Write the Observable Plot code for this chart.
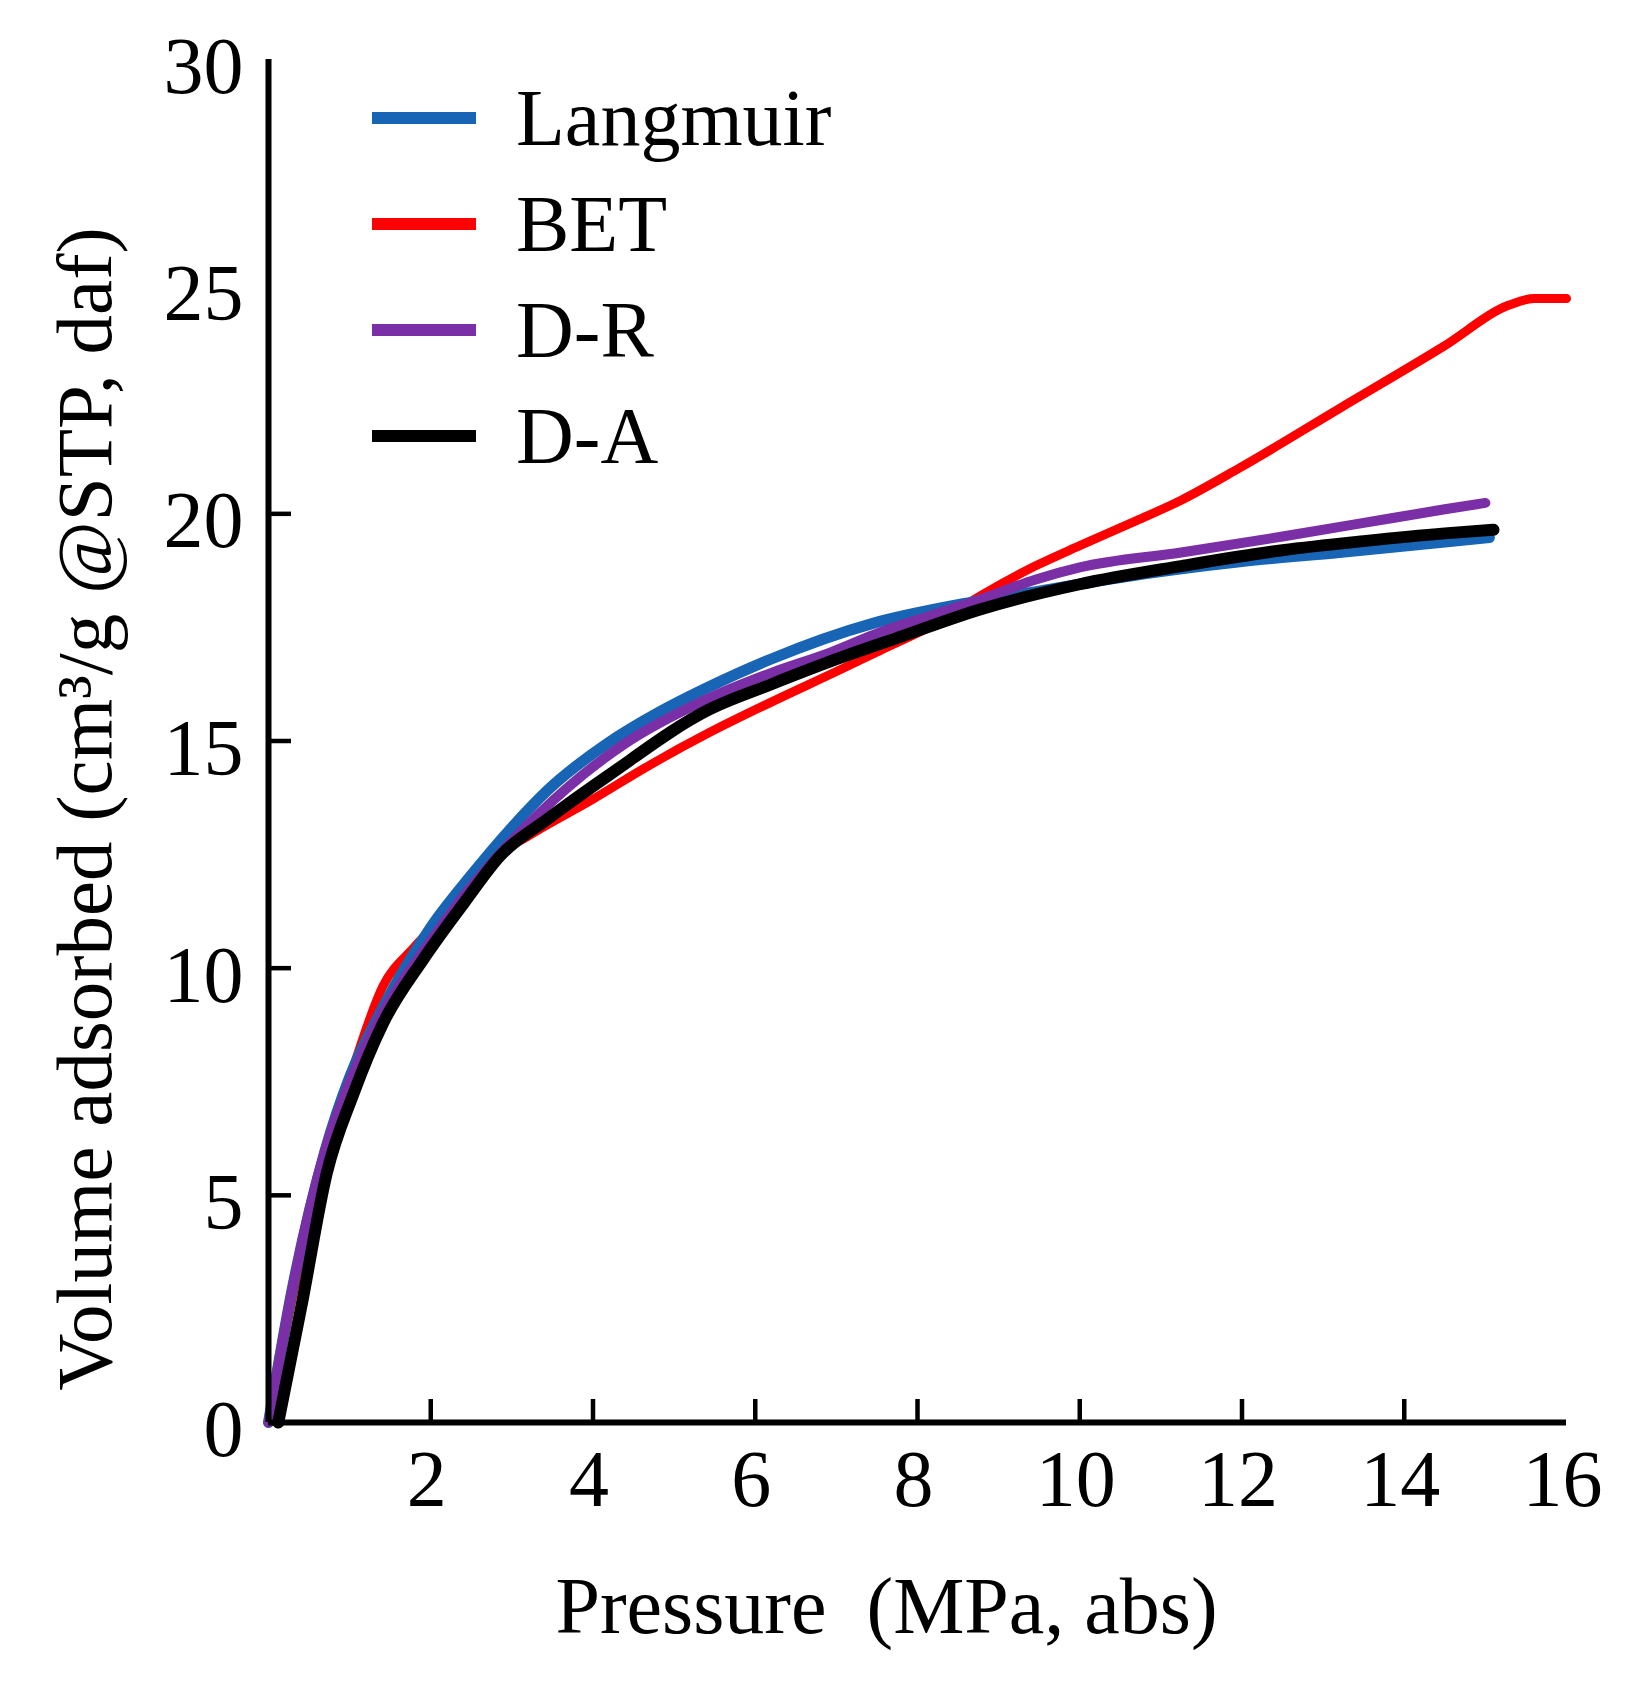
<!DOCTYPE html>
<html>
<head>
<meta charset="utf-8">
<script src="https://cdn.jsdelivr.net/npm/d3@7"></script>
<script src="https://cdn.jsdelivr.net/npm/@observablehq/plot@0.6"></script>
<style>
  body { margin: 0; background: #fff; }
  #chart { position: relative; width: 1630px; height: 1684px; }
  #legend { position: absolute; left: 372px; top: 65px; width: 600px; }
  #legend > div { margin: 0; }
  #legend > div > div { height: 106px; padding: 0; }
</style>
</head>
<body>
<div id="chart"><div id="legend"></div></div>
<script>
const serif = '"Liberation Serif", "Times New Roman", serif';

const seriesNames = ["Langmuir", "BET", "D-R", "D-A"];
const seriesColors = ["#1765b4", "#ff0000", "#7b2fa6", "#000000"];

// pressure (MPa) / volume (cm3/g)
const langmuirP = [0, 0.3, 0.7, 1.0, 1.4, 2.0, 2.5, 3.0, 3.43, 4.18, 4.81, 5.38, 6.19, 7.45, 8.5, 9.5, 10.5, 12.0, 13.2, 14.5, 15.05];
const langmuirV = [0, 3.0, 6.0, 7.6, 9.1, 10.9, 12.05, 13.1, 13.9, 14.95, 15.63, 16.15, 16.8, 17.59, 18.0, 18.3, 18.6, 18.95, 19.15, 19.38, 19.48];

const betP = [0, 0.3, 0.72, 1.06, 1.41, 1.79, 2.29, 2.74, 3.23, 3.99, 4.69, 5.44, 6.19, 7.0, 7.55, 8.19, 8.78, 9.45, 10.0, 10.7, 11.25, 11.96, 13.22, 14.48, 15.3, 15.6, 16.0];
const betV = [0, 2.8, 5.97, 7.9, 9.6, 10.45, 11.36, 12.37, 12.94, 13.71, 14.46, 15.19, 15.85, 16.53, 17.0, 17.55, 18.2, 18.85, 19.3, 19.85, 20.3, 21.0, 22.34, 23.68, 24.6, 24.74, 24.74];

const drP = [0, 0.3, 0.7, 1.0, 1.4, 2.0, 2.5, 3.0, 3.67, 4.4, 5.38, 6.2, 6.93, 7.55, 8.2, 8.78, 9.45, 10.0, 11.25, 12.5, 13.5, 14.5, 15.0];
const drV = [0, 3.0, 6.0, 7.5, 9.0, 10.6, 11.8, 12.8, 13.95, 14.95, 15.9, 16.5, 16.95, 17.4, 17.78, 18.12, 18.55, 18.82, 19.15, 19.5, 19.8, 20.1, 20.24];

const daP = [0.12, 0.41, 0.72, 1.04, 1.41, 1.91, 2.42, 2.86, 3.43, 4.18, 5.44, 6.2, 7.0, 7.8, 8.78, 10.0, 11.25, 12.5, 13.5, 14.5, 15.1];
const daV = [0, 2.6, 5.5, 7.2, 8.78, 10.2, 11.46, 12.48, 13.27, 14.23, 15.7, 16.25, 16.8, 17.3, 17.9, 18.45, 18.85, 19.2, 19.4, 19.57, 19.65];

const xTicks = [2, 4, 6, 8, 10, 12, 14];
const xTickLabels = [2, 4, 6, 8, 10, 12, 14, 16];
const yTicks = [5, 10, 15, 20];
const yTickLabels = [0, 5, 10, 15, 20, 25, 30];

const xLabel = "Pressure  (MPa, abs)";
const yLabel = "Volume adsorbed (cm³/g @STP, daf)";

const rows = [];
function addSeries(name, P, V) {
  P.forEach((p, i) => rows.push({ model: name, p, v: V[i] }));
}
addSeries("Langmuir", langmuirP, langmuirV);
addSeries("BET", betP, betV);
addSeries("D-R", drP, drV);
addSeries("D-A", daP, daV);

const width = 1630;
const height = 1684;
const margin = { top: 59, right: 64, bottom: 262, left: 268 };
const plotW = width - margin.left - margin.right;
const plotH = height - margin.top - margin.bottom;

const curve = (name, sw) =>
  Plot.line(rows.filter((d) => d.model === name), {
    x: "p",
    y: "v",
    stroke: "model",
    strokeWidth: sw,
    curve: "monotone-x",
    strokeLinecap: "round",
  });

const chart = Plot.plot({
  width,
  height,
  marginTop: margin.top,
  marginRight: margin.right,
  marginBottom: margin.bottom,
  marginLeft: margin.left,
  style: { fontFamily: serif, color: "#000", background: "#fff" },
  x: { domain: [0, 16] },
  y: { domain: [0, 30] },
  color: { domain: seriesNames, range: seriesColors },
  marks: [
    curve("BET", 9),
    curve("Langmuir", 11),
    curve("D-R", 10),
    curve("D-A", 12),
    Plot.ruleX([0], { strokeWidth: 6 }),
    Plot.ruleY([0], { strokeWidth: 6 }),
    Plot.ruleX(xTicks, { strokeWidth: 4.5, insetTop: plotH - 23 }),
    Plot.ruleY(yTicks, { strokeWidth: 4.5, insetRight: plotW - 23 }),
    Plot.axisX({ ticks: xTickLabels, tickSize: 0, tickPadding: 27, fontSize: 80, dx: -4, label: null }),
    Plot.axisY({ ticks: yTickLabels, tickSize: 0, tickPadding: 25, fontSize: 80, dy: 8, label: null }),
    Plot.text([xLabel], { text: (d) => d, frameAnchor: "bottom", textAnchor: "middle", dx: -31, dy: 210, lineAnchor: "bottom", fontSize: 80 }),
    Plot.text([yLabel], { text: (d) => d, frameAnchor: "left", textAnchor: "middle", rotate: -90, dx: -183, dy: 68, lineAnchor: "middle", fontSize: 79 }),
  ],
});
document.getElementById("chart").append(chart);

document.getElementById("legend").append(
  Plot.legend({
    color: { domain: seriesNames, range: seriesColors },
    legend: "swatches",
    columns: 1,
    swatchWidth: 104,
    swatchHeight: 12,
    style: { fontFamily: serif, fontSize: "80px", color: "#000" },
  })
);
</script>
</body>
</html>
